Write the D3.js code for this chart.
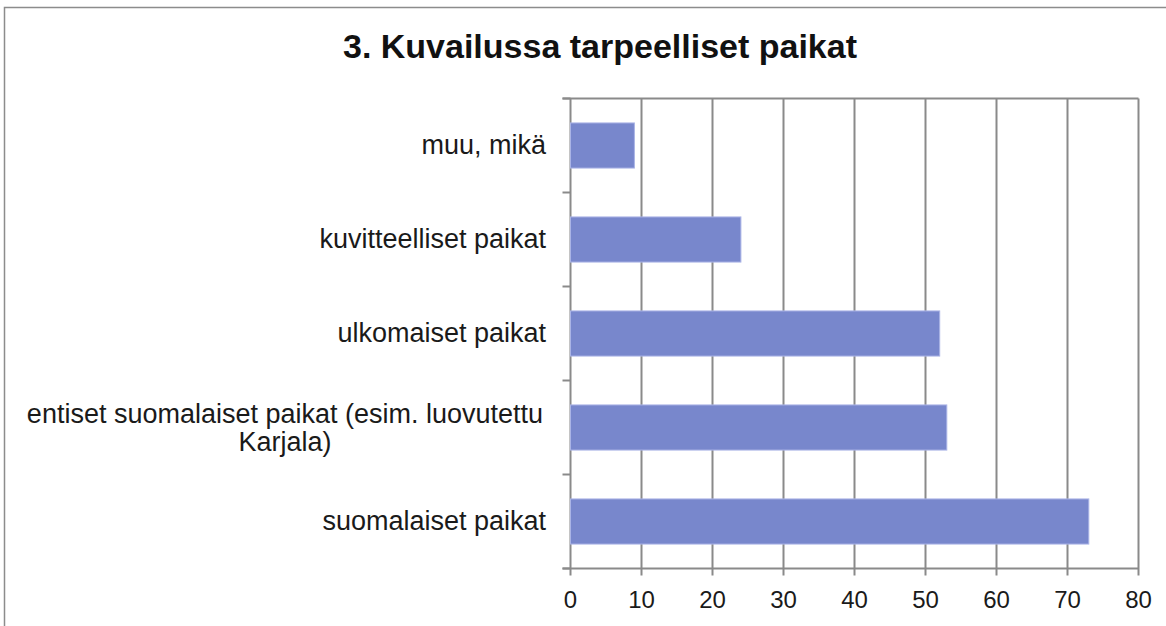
<!DOCTYPE html>
<html>
<head>
<meta charset="utf-8">
<script src="https://cdn.jsdelivr.net/npm/d3@7"></script>
<style>
  body { margin: 0; background: #fff; }
  text { font-family: "Liberation Sans", Arial, sans-serif; }
</style>
</head>
<body>
<svg id="chart" width="1166" height="626"></svg>
<script>
// Categories from top to bottom, as drawn
const categories = [
    "muu, mikä",
    "kuvitteelliset paikat",
    "ulkomaiset paikat",
    "entiset suomalaiset paikat (esim. luovutettu|Karjala)",
    "suomalaiset paikat"
];
const values = [9, 24, 52, 53, 73];
const xTicks = [0, 10, 20, 30, 40, 50, 60, 70, 80];
const title = "3. Kuvailussa tarpeelliset paikat";

const svg = d3.select("#chart");
const plotLeft = 570.5, plotRight = 1138.5, plotTop = 98.5, plotBottom = 568.5;

// outer frame (cut off at right and bottom)
svg.append("rect")
    .attr("x", 4.5).attr("y", 7.5)
    .attr("width", 1200).attr("height", 700)
    .attr("fill", "#fff")
    .attr("stroke", "#8c8c8c")
    .attr("stroke-width", 1.5);

const x = d3.scaleLinear().domain([0, 80]).range([plotLeft, plotRight]);
const y = d3.scaleBand().domain(categories).range([plotTop, plotBottom])
    .paddingInner(0.52).paddingOuter(0.26);

// gridlines
svg.append("g")
    .selectAll("line")
    .data(xTicks)
    .join("line")
    .attr("x1", d => x(d)).attr("x2", d => x(d))
    .attr("y1", plotTop).attr("y2", plotBottom + 7)
    .attr("stroke", "#8a8a8a")
    .attr("stroke-width", 2);

// top border of plot area
svg.append("line")
    .attr("x1", plotLeft - 8).attr("x2", plotRight)
    .attr("y1", plotTop).attr("y2", plotTop)
    .attr("stroke", "#8a8a8a").attr("stroke-width", 2);

// bottom axis line
svg.append("line")
    .attr("x1", plotLeft - 8).attr("x2", plotRight)
    .attr("y1", plotBottom).attr("y2", plotBottom)
    .attr("stroke", "#8a8a8a").attr("stroke-width", 2);

// left ticks at band boundaries
const step = (plotBottom - plotTop) / categories.length;
svg.append("g")
    .selectAll("line")
    .data(d3.range(categories.length + 1))
    .join("line")
    .attr("x1", plotLeft - 8).attr("x2", plotLeft)
    .attr("y1", i => plotTop + i * step).attr("y2", i => plotTop + i * step)
    .attr("stroke", "#8a8a8a").attr("stroke-width", 2);

// bars
svg.append("g")
    .selectAll("rect")
    .data(values)
    .join("rect")
    .attr("x", x(0))
    .attr("y", (d, i) => y(categories[i]))
    .attr("width", d => x(d) - x(0))
    .attr("height", y.bandwidth())
    .attr("fill", "#7887cc")
    .attr("stroke", "#aab4e6")
    .attr("stroke-width", 1);

// category labels
const labels = svg.append("g")
    .selectAll("text")
    .data(categories)
    .join("text")
    .attr("text-anchor", "middle")
    .attr("font-size", 27)
    .attr("fill", "#1a1a1a");

labels.each(function (d) {
    const lines = d.split("|");
    const t = d3.select(this);
    const cy = y(d) + y.bandwidth() / 2;
    const lh = 28;
    // single lines are right-aligned, wrapped ones centred on the wrap block
    if (lines.length === 1) {
        t.attr("text-anchor", "end")
            .attr("x", 546).attr("y", cy + 8).text(lines[0]);
    } else {
        lines.forEach((l, k) => {
            t.append("tspan")
                .attr("x", 285)
                .attr("y", cy + 9 + (k - (lines.length - 1) / 2) * lh)
                .text(l);
        });
    }
});

// x tick labels
svg.append("g")
    .selectAll("text")
    .data(xTicks)
    .join("text")
    .attr("x", d => x(d))
    .attr("y", 608)
    .attr("text-anchor", "middle")
    .attr("font-size", 24)
    .attr("fill", "#1a1a1a")
    .text(d => d);

// title
svg.append("text")
    .attr("x", 600).attr("y", 58)
    .attr("text-anchor", "middle")
    .attr("font-size", 34)
    .attr("font-weight", "bold")
    .attr("fill", "#111")
    .text(title);
</script>
</body>
</html>
